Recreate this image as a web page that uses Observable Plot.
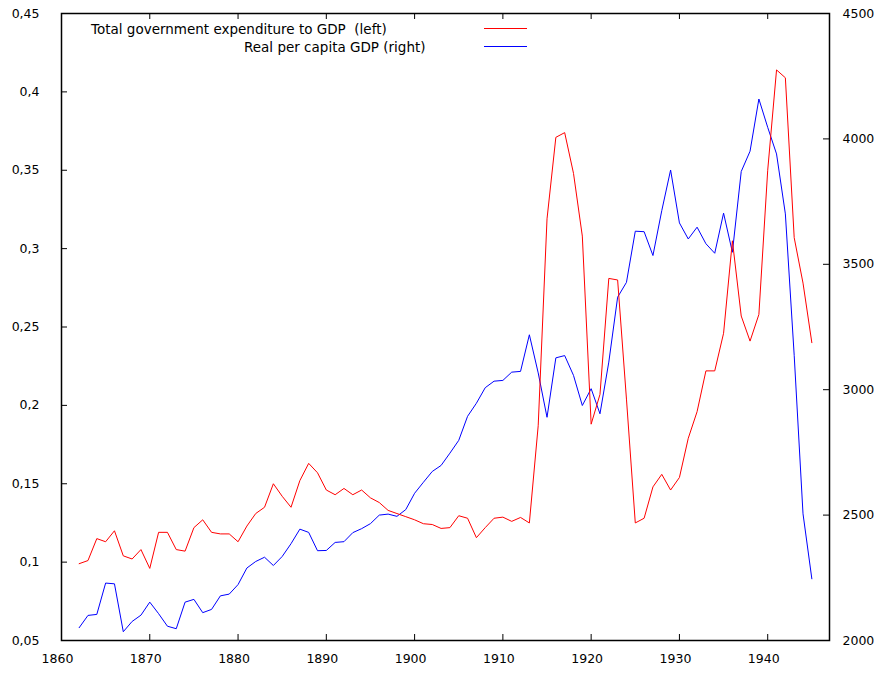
<!DOCTYPE html>
<html>
<head>
<meta charset="utf-8">
<script src="https://cdn.jsdelivr.net/npm/d3@7"></script>
<script src="https://cdn.jsdelivr.net/npm/@observablehq/plot@0.6"></script>
<style>
  html, body { margin: 0; padding: 0; background: #fff; }
  #wrap { position: relative; width: 878px; height: 673px; font-family: "DejaVu Sans", sans-serif; }
  #legend { position: absolute; left: 0; top: 0; pointer-events: none; }
  #legend text { white-space: pre; }
</style>
</head>
<body>
<div id="wrap"></div>
<script>
const years = d3.range(1862, 1946);
const expenditureToGDP = [
  0.099, 0.101, 0.115, 0.113, 0.120, 0.104, 0.102, 0.108, 0.096, 0.119,
  0.119, 0.108, 0.107, 0.122, 0.127, 0.119, 0.118, 0.118, 0.113, 0.123,
  0.131, 0.135, 0.150, 0.142, 0.135, 0.152, 0.163, 0.157, 0.146, 0.143,
  0.147, 0.143, 0.146, 0.141, 0.138, 0.133, 0.131, 0.129, 0.127, 0.1245,
  0.124, 0.1215, 0.122, 0.1296, 0.128, 0.1156, 0.122, 0.128, 0.1287, 0.126,
  0.1285, 0.125, 0.187, 0.319, 0.371, 0.374, 0.348, 0.308, 0.188, 0.207,
  0.281, 0.280, 0.204, 0.125, 0.128, 0.148, 0.156, 0.146, 0.154, 0.179,
  0.196, 0.222, 0.222, 0.246, 0.305, 0.257, 0.241, 0.258, 0.350, 0.414,
  0.409, 0.307, 0.278, 0.240
];
const realPerCapitaGDP = [
  2051, 2100, 2104, 2229, 2226, 2035, 2076, 2101, 2153, 2107,
  2057, 2047, 2153, 2164, 2111, 2124, 2178, 2185, 2223, 2289,
  2315, 2332, 2299, 2335, 2386, 2444, 2431, 2358, 2359, 2391,
  2394, 2430, 2446, 2466, 2500, 2504, 2495, 2522, 2587, 2631,
  2674, 2698, 2747, 2798, 2894, 2946, 3008, 3034, 3037, 3070,
  3073, 3219, 3067, 2890, 3127, 3136, 3057, 2937, 3004, 2904,
  3110, 3369, 3428, 3632, 3630, 3535, 3714, 3876, 3665, 3601,
  3648, 3582, 3544, 3704, 3548, 3870, 3951, 4159, 4046, 3940,
  3701, 3137, 2505, 2246
];
const xTicks = [1860, 1870, 1880, 1890, 1900, 1910, 1920, 1930, 1940];
const leftTicks = [0.05, 0.1, 0.15, 0.2, 0.25, 0.3, 0.35, 0.4, 0.45];
const rightTicks = [2000, 2500, 3000, 3500, 4000, 4500];
const seriesNames = ["Total government expenditure to GDP  (left)", "Real per capita GDP (right)"];
const seriesColors = ["#ff0000", "#0000ff"];

// map right axis (2000..4500) onto left axis (0.05..0.45)
const leftDomain = [0.05, 0.45];
const rightDomain = [2000, 4500];
const toLeft = r => leftDomain[0] + (r - rightDomain[0]) * (leftDomain[1] - leftDomain[0]) / (rightDomain[1] - rightDomain[0]);

const W = 878, H = 673;
const mL = 61, mR = 49, mT = 13, mB = 33;
const pw = W - mL - mR, ph = H - mT - mB;

const rows = years.map((yr, i) => ({year: yr, exp: expenditureToGDP[i], gdp: toLeft(realPerCapitaGDP[i])}));
const comma = d => String(+d.toFixed(2)).replace(".", ",");

const chart = Plot.plot({
  width: W, height: H,
  marginLeft: mL, marginRight: mR, marginTop: mT, marginBottom: mB,
  style: {fontFamily: "DejaVu Sans, sans-serif", fontSize: "12.5px", color: "#000", background: "#fff"},
  x: {domain: [1860, 1947]},
  y: {domain: leftDomain},
  marks: [
    Plot.line(rows, {x: "year", y: "gdp", stroke: seriesColors[1], strokeWidth: 1}),
    Plot.line(rows, {x: "year", y: "exp", stroke: seriesColors[0], strokeWidth: 1}),
    Plot.frame({stroke: "#000", strokeWidth: 1.5}),
    Plot.tickX(xTicks, {x: d => d, insetTop: ph - 6, stroke: "#000"}),
    Plot.tickX(xTicks, {x: d => d, insetBottom: ph - 6, stroke: "#000"}),
    Plot.tickY(leftTicks, {y: d => d, insetRight: pw - 6, stroke: "#000"}),
    Plot.tickY(rightTicks.map(toLeft), {y: d => d, insetLeft: pw - 6, stroke: "#000"}),
    Plot.axisX({ticks: xTicks, tickSize: 0, tickPadding: 14, tickFormat: d => String(d), dx: -4, label: null}),
    Plot.axisY({anchor: "left", ticks: leftTicks, tickSize: 0, tickPadding: 22, tickFormat: comma, label: null}),
    Plot.axisY({anchor: "right", ticks: rightTicks.map(toLeft), tickSize: 0, tickPadding: 13,
      tickFormat: (d, i) => String(rightTicks[i]), label: null})
  ]
});

const wrap = document.getElementById("wrap");
wrap.appendChild(chart);

// legend overlay (inside the plot frame, top-left)
const ns = "http://www.w3.org/2000/svg";
const leg = document.createElementNS(ns, "svg");
leg.setAttribute("id", "legend");
leg.setAttribute("width", W);
leg.setAttribute("height", 70);
const legendRows = [
  {name: seriesNames[0], color: seriesColors[0], tx: 91, cy: 29},
  {name: seriesNames[1], color: seriesColors[1], tx: 244, cy: 47}
];
legendRows.forEach(r => {
  const t = document.createElementNS(ns, "text");
  t.setAttribute("x", r.tx);
  t.setAttribute("y", r.cy);
  t.setAttribute("dy", "0.35em");
  t.setAttribute("font-family", "DejaVu Sans, sans-serif");
  t.setAttribute("font-size", "13.5px");
  t.setAttribute("fill", "#000");
  t.setAttributeNS("http://www.w3.org/XML/1998/namespace", "xml:space", "preserve");
  t.textContent = r.name;
  leg.appendChild(t);
  const l = document.createElementNS(ns, "line");
  l.setAttribute("x1", 484); l.setAttribute("x2", 527);
  l.setAttribute("y1", r.cy - 0.5); l.setAttribute("y2", r.cy - 0.5);
  l.setAttribute("stroke", r.color);
  l.setAttribute("stroke-width", 1);
  leg.appendChild(l);
});
wrap.appendChild(leg);
</script>
</body>
</html>
